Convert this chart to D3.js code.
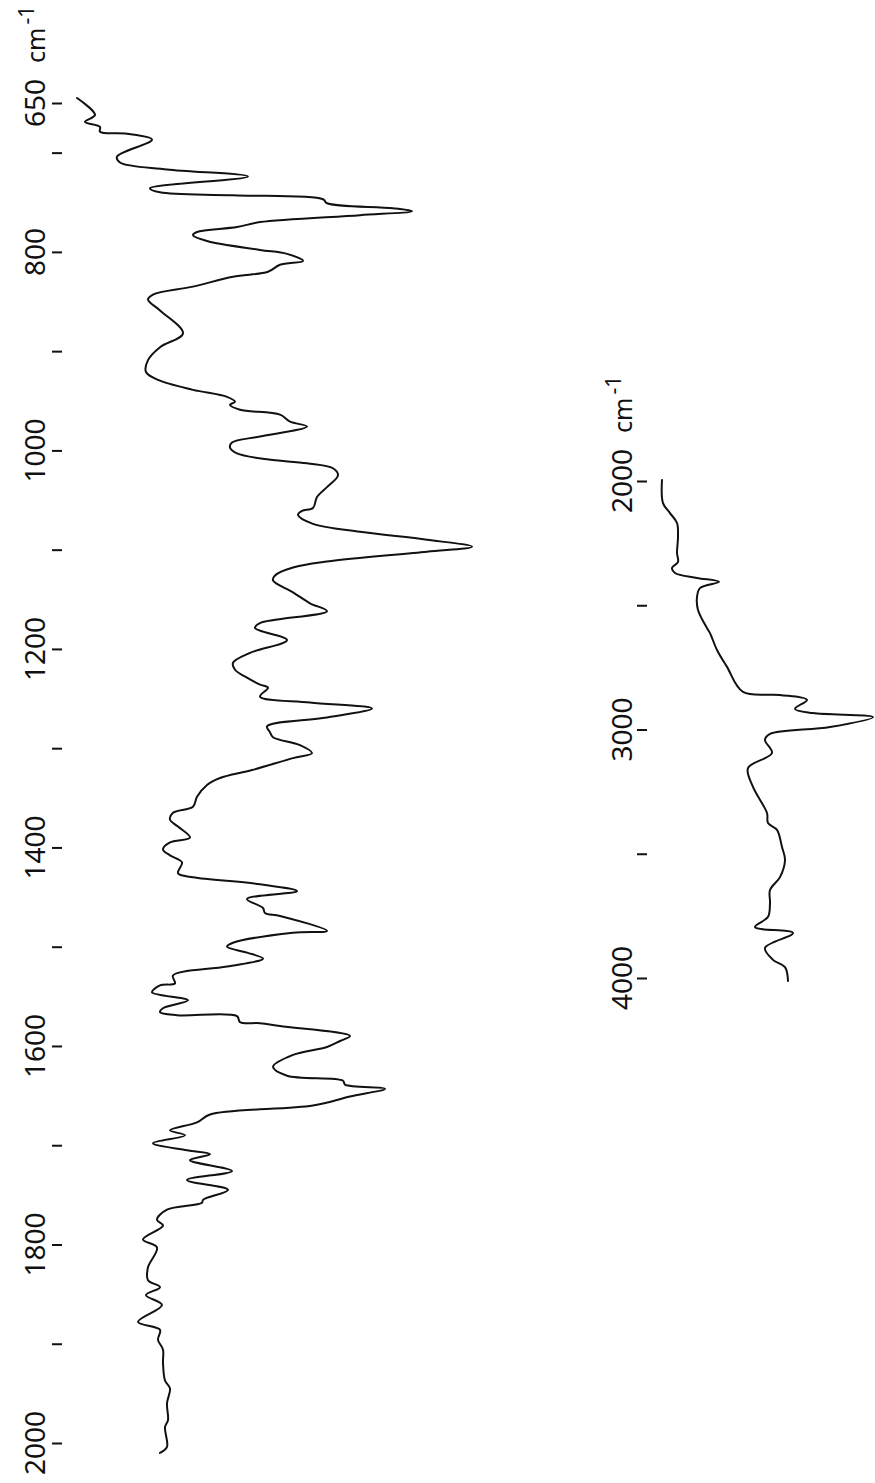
<!DOCTYPE html>
<html>
<head>
<meta charset="utf-8">
<script src="https://cdn.jsdelivr.net/npm/d3@7"></script>
<style>
  html, body { margin: 0; padding: 0; background: #fff; }
  svg { display: block; }
  text { font-family: "Noto Sans", "DejaVu Sans", sans-serif; fill: #111; }
</style>
</head>
<body>
<script>
// ---------- DATA ----------
// Spectrum 1: 650 – 2000 cm-1 (wavenumber, signal)
const wavenumber1 = [
  645,662,669,674,679,681,687,704,710,717,
  724,736,740,743,747,751,756,759,763,770,
  775,780,783,789,798,802,809,813,820,825,
  835,843,848,859,882,896,909,921,929,939,
  946,951,954,959,964,971,976,986,992,997,
  1003,1009,1013,1018,1025,1037,1047,1058,1061,1065,
  1074,1082,1090,1097,1102,1112,1118,1126,1131,1143,
  1154,1162,1174,1179,1191,1204,1214,1221,1229,1236,
  1239,1248,1254,1260,1269,1278,1284,1289,1297,1305,
  1310,1322,1330,1337,1349,1359,1365,1372,1379,1390,
  1395,1402,1408,1415,1426,1430,1437,1444,1452,1461,
  1466,1469,1484,1486,1496,1500,1506,1512,1520,1529,
  1537,1539,1546,1554,1562,1566,1569,1570,1576,1577,
  1580,1590,1595,1601,1609,1621,1630,1635,1639,1643,
  1651,1660,1669,1677,1685,1690,1698,1705,1709,1715,
  1726,1735,1745,1755,1758,1765,1775,1781,1795,1803,
  1823,1836,1843,1851,1861,1878,1886,1896,1906,1919,
  1937,1945,1960,1977,1984,2004,2010
];
const signal1 = [
  7,25,15,30,30,57,82,47,50,97,
  178,80,90,163,253,257,323,342,290,190,
  167,127,123,137,190,217,233,210,198,163,
  123,83,78,90,113,90,78,76,88,123,
  157,165,160,170,210,220,237,190,162,160,
  167,197,237,263,268,257,247,243,232,228,
  243,290,357,402,357,257,223,205,203,223,
  240,257,190,185,217,180,163,165,177,190,
  198,190,240,302,257,197,200,203,230,242,
  223,182,150,137,127,123,103,100,108,120,
  100,93,100,112,108,123,190,227,177,193,
  195,210,257,223,163,157,177,193,157,103,
  105,90,82,118,93,90,107,167,170,190,
  210,280,270,257,223,203,217,273,275,315,
  280,243,140,127,100,115,83,117,140,120,
  162,117,158,133,132,97,87,93,73,87,
  78,78,90,76,92,68,90,88,93,93,
  95,100,97,98,95,97,90
];

// Spectrum 2: 2000 – 4000 cm-1
const wavenumber2 = [
  1996,2089,2129,2169,2225,2290,2326,2350,2370,2390,
  2406,2431,2467,2519,2592,2612,2680,2748,2849,2861,
  2881,2917,2934,2950,2990,3018,3042,3095,3155,3231,
  3336,3376,3404,3473,3525,3594,3646,3698,3754,3795,
  3819,3879,3927,3956,4012
];
const signal2 = [
  62,63,70,77,78,77,78,72,75,97,
  119,100,97,98,107,110,117,127,143,180,
  207,195,213,273,230,170,165,172,148,153,
  167,168,177,182,185,180,170,170,168,155,
  193,165,173,185,188
];

// Axis ticks and labels
const ticks1 = [650,700,800,900,1000,1100,1200,1300,1400,1500,1600,1700,1800,1900,2000];
const labels1 = [650,800,1000,1200,1400,1600,1800,2000];
const ticks2 = [2000,2500,3000,3500,4000];
const labels2 = [2000,3000,4000];
const unitText = "cm";
const unitSup = "-1";

// ---------- CHART ----------
const W = 875, H = 1483;
const svg = d3.select("body").append("svg").attr("width", W).attr("height", H);

const y1 = d3.scaleLinear().domain([650, 2000]).range([103, 1443]);
const x1 = d3.scaleLinear().domain([0, 400]).range([70, 470]);
const y2 = d3.scaleLinear().domain([2000, 4000]).range([481, 978]);
const x2 = d3.scaleLinear().domain([0, 400]).range([600, 1000]);

// tick axes
function drawAxis(scale, vals, xPos) {
  const g = svg.append("g")
    .attr("transform", `translate(${xPos},0)`)
    .call(d3.axisRight(scale).tickValues(vals).tickSize(10).tickFormat(""));
  g.select(".domain").remove();
  g.selectAll(".tick line").attr("stroke", "#111").attr("stroke-width", 2);
}
drawAxis(y1, ticks1, 52);
drawAxis(y2, ticks2, 637);

// rotated labels
function drawLabels(scale, vals, xBase, unitAt) {
  vals.forEach(v => {
    const g = svg.append("g").attr("transform", `translate(${xBase},${scale(v)}) rotate(-90)`);
    const t = g.append("text").attr("text-anchor", "middle").attr("font-size", 28).text(v);
    if (v === unitAt) {
      const half = t.node().getComputedTextLength() / 2;
      const u = g.append("text").attr("x", half + 16).attr("font-size", 25).text(unitText);
      u.append("tspan").attr("dx", 3).attr("dy", -11).attr("font-size", 21).text(unitSup);
    }
  });
}
drawLabels(y1, labels1, 45, 650);
drawLabels(y2, labels2, 632, 2000);

// spectra
const line1 = d3.line()
  .curve(d3.curveCatmullRom.alpha(0.5))
  .x((d, i) => x1(signal1[i]))
  .y(d => y1(d));
const line2 = d3.line()
  .curve(d3.curveCatmullRom.alpha(0.5))
  .x((d, i) => x2(signal2[i]))
  .y(d => y2(d));

svg.append("path").attr("d", line1(wavenumber1))
  .attr("fill", "none").attr("stroke", "#111").attr("stroke-width", 2)
  .attr("stroke-linejoin", "round").attr("stroke-linecap", "round");
svg.append("path").attr("d", line2(wavenumber2))
  .attr("fill", "none").attr("stroke", "#111").attr("stroke-width", 2)
  .attr("stroke-linejoin", "round").attr("stroke-linecap", "round");
</script>
</body>
</html>
